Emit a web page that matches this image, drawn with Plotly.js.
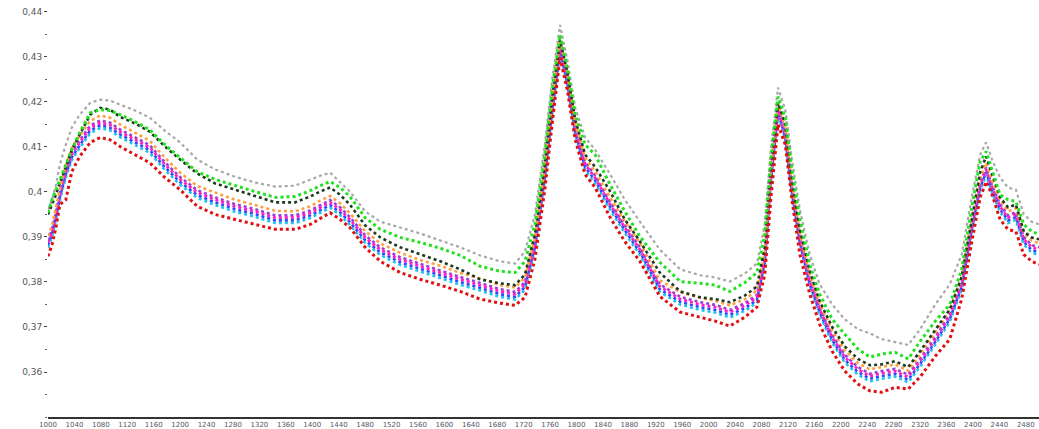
<!DOCTYPE html>
<html>
<head>
<meta charset="utf-8">
<script src="https://cdn.plot.ly/plotly-3.0.1.min.js"></script>
<style>html,body{margin:0;padding:0;background:#fff;}#chart{width:1039px;height:429px;}</style>
</head>
<body>
<div id="chart"></div>
<script>
// Wavelength positions (nm)
const wavelength = [1000,1006,1012,1018,1027,1036,1048,1064,1079,1094,
1109,1132,1154,1177,1200,1226,1253,1283,1313,1344,
1374,1397,1412,1427,1442,1457,1480,1503,1533,1563,
1594,1624,1654,1684,1707,1722,1737,1752,1763,1775,
1786,1798,1813,1828,1851,1873,1896,1926,1957,1987,
2010,2032,2055,2073,2085,2094,2105,2116,2126,2138,
2153,2168,2187,2206,2226,2244,2262,2282,2302,2320,
2343,2365,2383,2399,2411,2420,2429,2441,2453,2465,
2477,2489,2500];

const sGray = [.3961,.3983,.4016,.4061,.4105,.4143,.4172,.4198,.4205,.4203,
.4194,.4181,.4165,.4136,.4110,.4072,.4050,.4034,.4021,.4012,
.4014,.4028,.4036,.4043,.4023,.4001,.3957,.3934,.3921,.3908,
.3892,.3877,.3859,.3846,.3841,.3868,.3950,.4105,.4249,.4371,
.4294,.4187,.4121,.4094,.4039,.3983,.3934,.3872,.3828,.3815,
.3810,.3801,.3819,.3841,.3928,.4094,.4232,.4183,.4072,.3961,
.3861,.3795,.3750,.3717,.3695,.3686,.3673,.3666,.3660,.3695,
.3750,.3795,.3861,.3994,.4083,.4110,.4072,.4032,.4010,.4005,
.3950,.3934,.3928];

const sGreen = [.3954,.3983,.4005,.4028,.4061,.4094,.4132,.4176,.4183,.4181,
.4172,.4156,.4138,.4105,.4076,.4045,.4028,.4014,.4001,.3988,
.3990,.4003,.4014,.4023,.4010,.3990,.3943,.3917,.3899,.3888,
.3875,.3859,.3835,.3824,.3821,.3846,.3928,.4083,.4227,.4349,
.4276,.4172,.4105,.4083,.4016,.3957,.3901,.3844,.3801,.3797,
.3793,.3779,.3799,.3821,.3906,.4072,.4212,.4165,.4050,.3939,
.3839,.3773,.3717,.3684,.3651,.3633,.3640,.3644,.3629,.3668,
.3713,.3750,.3828,.3972,.4068,.4090,.4050,.3994,.3983,.3979,
.3928,.3912,.3906];

const sBlack = [.3950,.3972,.3994,.4021,.4055,.4094,.4127,.4172,.4187,.4183,
.4167,.4152,.4134,.4101,.4072,.4041,.4019,.4005,.3990,.3977,
.3977,.3990,.4001,.4010,.3994,.3972,.3926,.3899,.3877,.3861,
.3846,.3828,.3806,.3797,.3793,.3817,.3906,.4061,.4209,.4338,
.4267,.4161,.4083,.4056,.4001,.3939,.3890,.3821,.3779,.3766,
.3762,.3755,.3770,.3790,.3877,.4050,.4198,.4150,.4028,.3917,
.3824,.3757,.3700,.3657,.3629,.3615,.3617,.3624,.3611,.3646,
.3695,.3739,.3812,.3950,.4045,.4079,.4039,.3988,.3966,.3972,
.3912,.3899,.3895];

const sOrange = [.3902,.3925,.3966,.4008,.4060,.4097,.4125,.4158,.4170,.4165,
.4150,.4131,.4114,.4076,.4043,.4013,.3998,.3983,.3971,.3958,
.3957,.3968,.3981,.3991,.3975,.3953,.3913,.3886,.3865,.3849,
.3836,.3820,.3808,.3793,.3788,.3810,.3898,.4055,.4200,.4338,
.4265,.4152,.4076,.4046,.3987,.3935,.3887,.3804,.3777,.3765,
.3758,.3748,.3762,.3781,.3866,.4045,.4198,.4142,.4020,.3910,
.3816,.3753,.3692,.3648,.3620,.3606,.3611,.3617,.3603,.3639,
.3688,.3738,.3810,.3943,.4031,.4065,.4025,.3983,.3957,.3964,
.3910,.3892,.3886];

const sPurple = [.3892,.3917,.3955,.3999,.4050,.4088,.4115,.4148,.4159,.4154,
.4139,.4121,.4104,.4066,.4033,.4004,.3988,.3973,.3962,.3948,
.3948,.3959,.3971,.3982,.3966,.3944,.3904,.3877,.3855,.3840,
.3826,.3811,.3798,.3784,.3778,.3800,.3888,.4044,.4188,.4326,
.4254,.4143,.4066,.4037,.3977,.3926,.3877,.3795,.3767,.3755,
.3749,.3738,.3753,.3771,.3855,.4033,.4188,.4132,.4010,.3900,
.3806,.3744,.3682,.3638,.3611,.3596,.3602,.3607,.3594,.3629,
.3678,.3729,.3800,.3933,.4021,.4055,.4015,.3973,.3948,.3955,
.3900,.3882,.3877];

const sMagenta = [.3888,.3912,.3950,.3994,.4045,.4083,.4110,.4143,.4154,.4149,
.4134,.4116,.4099,.4061,.4028,.3999,.3983,.3968,.3957,.3943,
.3943,.3954,.3966,.3977,.3961,.3939,.3899,.3872,.3850,.3835,
.3821,.3806,.3793,.3779,.3773,.3795,.3883,.4039,.4183,.4320,
.4249,.4138,.4061,.4032,.3972,.3921,.3872,.3790,.3762,.3750,
.3744,.3733,.3748,.3766,.3850,.4028,.4183,.4127,.4005,.3895,
.3801,.3739,.3677,.3633,.3606,.3591,.3597,.3602,.3589,.3624,
.3673,.3724,.3795,.3928,.4016,.4050,.4010,.3968,.3943,.3950,
.3895,.3877,.3872];

const sBlue = [.3882,.3906,.3944,.3988,.4039,.4077,.4104,.4137,.4148,.4143,
.4128,.4110,.4093,.4055,.4022,.3993,.3977,.3962,.3951,.3937,
.3937,.3948,.3960,.3971,.3955,.3933,.3893,.3866,.3844,.3829,
.3815,.3800,.3787,.3773,.3767,.3789,.3877,.4033,.4177,.4314,
.4243,.4132,.4055,.4026,.3966,.3915,.3866,.3784,.3756,.3744,
.3738,.3727,.3742,.3760,.3844,.4022,.4177,.4121,.3999,.3889,
.3795,.3733,.3671,.3627,.3600,.3585,.3591,.3596,.3583,.3618,
.3667,.3718,.3789,.3922,.4010,.4044,.4004,.3962,.3937,.3944,
.3889,.3871,.3866];

const sCyan = [.3876,.3900,.3938,.3982,.4033,.4071,.4098,.4131,.4142,.4137,
.4122,.4104,.4087,.4049,.4016,.3987,.3971,.3956,.3945,.3931,
.3931,.3942,.3954,.3965,.3949,.3927,.3887,.3860,.3838,.3823,
.3809,.3794,.3781,.3767,.3761,.3783,.3871,.4027,.4171,.4308,
.4237,.4126,.4049,.4020,.3960,.3909,.3860,.3778,.3750,.3738,
.3732,.3721,.3736,.3754,.3838,.4016,.4171,.4115,.3993,.3883,
.3789,.3727,.3665,.3621,.3594,.3579,.3585,.3590,.3577,.3612,
.3661,.3712,.3783,.3916,.4004,.4038,.3998,.3956,.3931,.3938,
.3883,.3865,.3860];

const sRed = [.3857,.3883,.3921,.3972,.3983,.4045,.4079,.4110,.4121,.4116,
.4101,.4083,.4065,.4032,.4005,.3968,.3950,.3939,.3928,.3917,
.3917,.3928,.3941,.3954,.3939,.3921,.3877,.3846,.3821,.3806,
.3793,.3779,.3762,.3753,.3748,.3766,.3850,.4005,.4150,.4298,
.4227,.4116,.4039,.4010,.3943,.3890,.3846,.3768,.3733,.3722,
.3713,.3702,.3722,.3744,.3817,.3983,.4150,.4105,.3983,.3861,
.3773,.3706,.3646,.3602,.3573,.3558,.3555,.3566,.3562,.3589,
.3635,.3673,.3762,.3895,.3988,.4023,.3994,.3939,.3917,.3912,
.3861,.3846,.3839];

const yTickVals = [0.36,0.37,0.38,0.39,0.40,0.41,0.42,0.43,0.44];
const yTickText = ["0,36","0,37","0,38","0,39","0,4","0,41","0,42","0,43","0,44"];

const seriesList = [
  {name:"S1", y:sGray,    color:"#a8a8a8", dash:"dot", width:2.2},
  {name:"S2", y:sCyan,    color:"#22c4e8", dash:"dot", width:2.6},
  {name:"S3", y:sBlue,    color:"#2a4cff", dash:"dot", width:2.6},
  {name:"S4", y:sPurple,  color:"#9a40d0", dash:"dot", width:2.6},
  {name:"S5", y:sMagenta, color:"#ff1fc8", dash:"dot", width:2.8},
  {name:"S6", y:sOrange,  color:"#ffa040", dash:"dot", width:2.6},
  {name:"S7", y:sBlack,   color:"#1e3a1e", dash:"dot", width:2.6},
  {name:"S8", y:sGreen,   color:"#22e022", dash:"dot", width:3},
  {name:"S9", y:sRed,     color:"#e01010", dash:"dot", width:3}
];

const traces = seriesList.map(s => ({
  type: "scatter",
  mode: "lines",
  x: wavelength,
  y: s.y,
  name: s.name,
  line: {color: s.color, dash: s.dash, width: s.width},
  hoverinfo: "skip"
}));

const layout = {
  width: 1039,
  height: 429,
  margin: {l: 48, r: 0, t: 0, b: 12, pad: 0},
  paper_bgcolor: "#ffffff",
  plot_bgcolor: "#ffffff",
  showlegend: false,
  font: {family: "DejaVu Sans, Arial, sans-serif", color: "#555"},
  xaxis: {
    range: [1000, 2500],
    tick0: 1000,
    dtick: 40,
    tickangle: 0,
    showgrid: false,
    zeroline: false,
    showline: true,
    linecolor: "#333",
    linewidth: 2,
    ticks: "",
    tickfont: {size: 7, color: "#556"},
    automargin: false
  },
  yaxis: {
    range: [0.35, 0.44266],
    tickvals: yTickVals,
    ticktext: yTickText,
    showgrid: false,
    zeroline: false,
    showline: false,
    ticks: "outside",
    ticklen: 3,
    tickcolor: "#444",
    tickfont: {size: 9, color: "#555"},
    minor: {dtick: 0.005, tick0: 0.355, ticks: "outside", ticklen: 2, tickcolor: "#666"},
    automargin: false
  }
};

Plotly.newPlot("chart", traces, layout, {staticPlot: true, displayModeBar: false});
</script>
</body>
</html>
